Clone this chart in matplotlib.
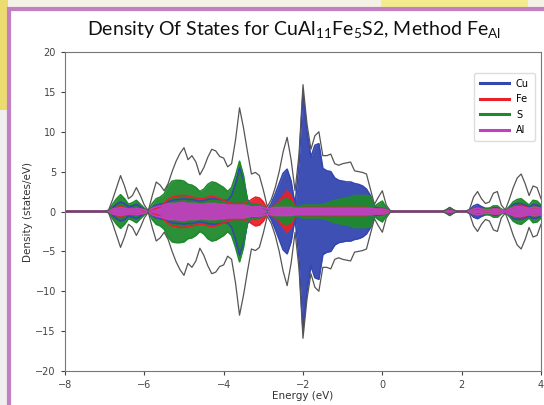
import numpy as np
import matplotlib
matplotlib.use("Agg")
import matplotlib.pyplot as plt
from matplotlib.patches import Rectangle

# ---------------- data ----------------
energy = np.round(np.arange(-8.0, 4.0001, 0.1), 1)

zeros11 = [0.0] * 11  # -8.0 .. -7.0

total = zeros11 + [
    0.2, 1.5, 3.0, 4.5, 3.2, 1.6, 2.0, 3.0, 2.0, 0.8,      # -6.9 .. -6.0
    0.1, 2.0, 3.7, 3.3, 2.6, 3.5, 5.0, 6.3, 7.3, 8.0,      # -5.9 .. -5.0
    6.5, 7.0, 6.2, 4.6, 5.5, 6.8, 7.8, 7.6, 6.9, 6.7,      # -4.9 .. -4.0
    5.6, 6.0, 9.0, 13.0, 10.5, 7.5, 4.7, 4.9, 4.5, 2.7,    # -3.9 .. -3.0
    0.6, 1.5, 3.0, 5.0, 7.5, 9.3, 6.5, 2.6, 7.2, 15.9,     # -2.9 .. -2.0
    11.0, 7.8, 9.5, 10.0, 7.0, 7.0, 7.2, 6.0, 5.8, 6.0,    # -1.9 .. -1.0
    6.1, 6.2, 5.1, 5.0, 4.9, 4.7, 2.8, 0.9, 1.8, 2.6,      # -0.9 .. 0.0
    0.8, 0.1, 0.0, 0.0, 0.0, 0.0, 0.0, 0.0, 0.0, 0.0,      # 0.1 .. 1.0
    0.0, 0.0, 0.0, 0.0, 0.0, 0.2, 0.5, 0.2, 0.0, 0.0,      # 1.1 .. 2.0
    0.0, 0.3, 1.8, 2.5, 1.6, 1.0, 1.2, 2.3, 2.5, 0.8,      # 2.1 .. 3.0
    0.2, 1.5, 3.0, 4.2, 4.7, 3.5, 2.0, 3.2, 3.0, 1.6,      # 3.1 .. 4.0
]

cu = zeros11 + [
    0.05, 0.5, 0.9, 1.2, 1.0, 0.6, 0.7, 0.9, 0.6, 0.3,
    0.05, 0.5, 0.8, 0.9, 1.0, 1.2, 1.4, 1.5, 1.5, 1.6,
    1.5, 1.5, 1.4, 1.3, 1.4, 1.5, 1.6, 1.6, 1.5, 1.4,
    1.4, 2.0, 3.5, 5.5, 4.0, 1.5, 0.8, 0.9, 0.8, 0.5,
    0.2, 1.0, 2.2, 3.5, 4.8, 5.3, 3.8, 0.8, 6.0, 14.8,
    10.0, 6.8, 8.3, 8.5, 5.4, 5.1, 5.0, 4.2, 3.9, 3.8,
    3.7, 3.7, 3.5, 3.4, 3.2, 2.8, 2.0, 0.6, 0.4, 0.4,
    0.2, 0.05, 0.0, 0.0, 0.0, 0.0, 0.0, 0.0, 0.0, 0.0,
    0.0, 0.0, 0.0, 0.0, 0.0, 0.05, 0.2, 0.05, 0.0, 0.0,
    0.0, 0.2, 0.7, 0.9, 0.6, 0.4, 0.4, 0.5, 0.5, 0.2,
    0.1, 0.5, 0.9, 1.0, 1.0, 0.8, 0.6, 0.9, 0.8, 0.6,
]

fe = zeros11 + [
    0.05, 0.3, 0.5, 0.6, 0.5, 0.3, 0.3, 0.4, 0.3, 0.15,
    0.05, 0.3, 0.4, 0.6, 1.0, 1.5, 1.8, 1.9, 2.0, 2.0,
    1.9, 1.8, 1.7, 1.6, 1.6, 1.8, 1.9, 1.8, 1.6, 1.4,
    1.2, 1.0, 1.0, 1.0, 1.0, 1.1, 1.5, 1.8, 1.7, 1.2,
    0.3, 0.5, 0.8, 1.3, 2.0, 2.6, 2.0, 0.6, 0.5, 0.5,
    0.5, 0.5, 0.5, 0.5, 0.5, 0.5, 0.5, 0.5, 0.5, 0.5,
    0.5, 0.5, 0.5, 0.5, 0.5, 0.5, 0.4, 0.3, 0.3, 0.3,
    0.2, 0.05, 0.0, 0.0, 0.0, 0.0, 0.0, 0.0, 0.0, 0.0,
    0.0, 0.0, 0.0, 0.0, 0.0, 0.02, 0.1, 0.02, 0.0, 0.0,
    0.0, 0.1, 0.3, 0.3, 0.3, 0.2, 0.2, 0.3, 0.3, 0.2,
    0.1, 0.3, 0.5, 0.7, 0.8, 0.6, 0.4, 0.5, 0.5, 0.4,
]

s = zeros11 + [
    0.1, 0.9, 1.6, 2.1, 1.6, 0.9, 1.1, 1.4, 0.9, 0.4,
    0.05, 1.0, 1.6, 1.8, 2.2, 3.2, 3.8, 3.9, 3.9, 3.8,
    3.4, 3.3, 3.0, 2.5, 2.8, 3.4, 3.7, 3.6, 3.3, 3.0,
    2.5, 3.0, 4.5, 6.3, 4.5, 1.2, 0.9, 0.9, 0.8, 0.6,
    0.2, 0.4, 0.7, 1.0, 1.5, 1.6, 1.3, 0.5, 0.6, 0.8,
    0.8, 0.8, 0.8, 0.8, 0.9, 1.0, 1.2, 1.4, 1.5, 1.6,
    1.7, 1.8, 2.0, 2.0, 2.0, 2.0, 1.9, 0.6, 1.0, 1.3,
    0.5, 0.05, 0.0, 0.0, 0.0, 0.0, 0.0, 0.0, 0.0, 0.0,
    0.0, 0.0, 0.0, 0.0, 0.0, 0.15, 0.5, 0.15, 0.0, 0.0,
    0.0, 0.1, 0.3, 0.4, 0.4, 0.3, 0.4, 0.7, 0.7, 0.3,
    0.1, 0.6, 1.2, 1.5, 1.6, 1.2, 0.8, 1.4, 1.3, 0.8,
]

al = zeros11 + [
    0.05, 0.3, 0.4, 0.5, 0.4, 0.3, 0.3, 0.4, 0.3, 0.2,
    0.05, 0.4, 0.6, 0.7, 0.8, 1.0, 1.0, 1.0, 1.1, 1.1,
    1.0, 1.0, 1.0, 0.9, 0.9, 1.0, 1.0, 1.0, 0.9, 0.9,
    0.8, 0.8, 0.8, 0.8, 0.8, 0.7, 0.6, 0.6, 0.6, 0.5,
    0.3, 0.4, 0.5, 0.5, 0.5, 0.5, 0.5, 0.4, 0.4, 0.4,
    0.4, 0.4, 0.4, 0.4, 0.4, 0.4, 0.4, 0.4, 0.4, 0.4,
    0.4, 0.4, 0.4, 0.4, 0.4, 0.4, 0.4, 0.3, 0.3, 0.3,
    0.2, 0.05, 0.0, 0.0, 0.0, 0.0, 0.0, 0.0, 0.0, 0.0,
    0.0, 0.0, 0.0, 0.0, 0.0, 0.02, 0.1, 0.02, 0.0, 0.0,
    0.0, 0.1, 0.3, 0.4, 0.3, 0.2, 0.2, 0.3, 0.3, 0.2,
    0.1, 0.3, 0.5, 0.6, 0.6, 0.5, 0.4, 0.5, 0.5, 0.4,
]

elements = ["Cu", "Fe", "S", "Al"]
colors = {"Cu": "#3446b0", "Fe": "#e8202a", "S": "#1f8a2c", "Al": "#c040c0"}

title_text = r"Density Of States for CuAl$_{11}$Fe$_5$S2, Method Fe$_{\mathrm{Al}}$"
xlabel_text = "Energy (eV)"
ylabel_text = "Density (states/eV)"
xticks = [-8, -6, -4, -2, 0, 2, 4]
yticks = [-20, -15, -10, -5, 0, 5, 10, 15, 20]

# ---------------- figure ----------------
plt.rcParams["mathtext.fontset"] = "custom"
plt.rcParams["mathtext.rm"] = "Lato"
plt.rcParams["mathtext.it"] = "Lato"

fig = plt.figure(figsize=(5.44, 4.05), dpi=100)
fig.patch.set_facecolor("white")

W, H = 544.0, 405.0
# slide background bits outside the purple frame
fig.patches.append(Rectangle((0, 1 - 8 / H), 1.0, 8 / H, transform=fig.transFigure,
                             facecolor="#f4f2e6", edgecolor="none", zorder=0))
fig.patches.append(Rectangle((0.70, 1 - 8 / H), 0.27, 8 / H, transform=fig.transFigure,
                             facecolor="#f4ec8c", edgecolor="none", zorder=0))
fig.patches.append(Rectangle((0, 1 - 110 / H), 8 / W, 110 / H, transform=fig.transFigure,
                             facecolor="#ecdc70", edgecolor="none", zorder=0))
fig.patches.append(Rectangle((0, 0), 8 / W, 1 - 110 / H, transform=fig.transFigure,
                             facecolor="#efefef", edgecolor="none", zorder=0))
# purple frame
fig.patches.append(Rectangle((8.5 / W, -0.05), 1.2, 1 - 8.5 / H + 0.05,
                             transform=fig.transFigure, facecolor="white",
                             edgecolor="#c27fc4", linewidth=3, zorder=1))

ax = fig.add_axes([65 / W, 1 - 371 / H, (541 - 65) / W, (371 - 52) / H])
ax.set_zorder(2)

E = energy
arrs = {"Cu": np.array(cu), "Fe": np.array(fe), "S": np.array(s), "Al": np.array(al)}
T = np.array(total)

for el in elements:
    d = arrs[el]
    ax.fill_between(E, -d, d, color=colors[el], linewidth=0, alpha=0.95)
for el in elements:
    d = arrs[el]
    ax.plot(E, d, color=colors[el], lw=1.2, label=el)
    ax.plot(E, -d, color=colors[el], lw=1.2)
ax.plot(E, T, color="#555555", lw=0.9)
ax.plot(E, -T, color="#555555", lw=0.9)

ax.set_xlim(-8, 4)
ax.set_ylim(-20, 20)
ax.set_xticks(xticks)
ax.set_yticks(yticks)
ax.tick_params(labelsize=7, colors="#444444", length=3, width=0.8)
for sp in ax.spines.values():
    sp.set_color("#777777")
    sp.set_linewidth(0.8)
ax.set_xlabel(xlabel_text, fontsize=7.5, color="#333333", labelpad=1)
ax.set_ylabel(ylabel_text, fontsize=7.5, color="#333333", labelpad=2)

leg = ax.legend(loc="upper right", bbox_to_anchor=(0.987, 0.934), borderaxespad=0,
                fontsize=7, frameon=True, handlelength=3.0, borderpad=0.6,
                labelspacing=0.55, handletextpad=0.7,
                edgecolor="#dddddd", framealpha=1.0, fancybox=True)
for h in leg.legend_handles:
    h.set_linewidth(2.2)

fig.text(294 / W, 1 - 30 / H, title_text, ha="center", va="center",
         fontsize=14, family="Lato", color="#111111")

fig.savefig("out.png", dpi=100)
